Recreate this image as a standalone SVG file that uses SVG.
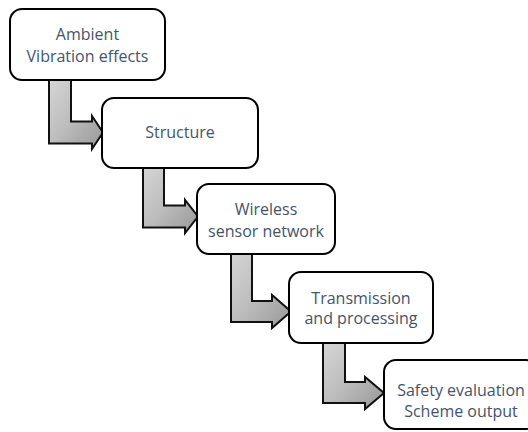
<svg xmlns="http://www.w3.org/2000/svg" width="528" height="432" viewBox="0 0 528 432">
<defs>
<linearGradient id="g" x1="0" y1="0" x2="1" y2="1">
<stop offset="0" stop-color="#d6d6d6"/>
<stop offset="0.5" stop-color="#bcbcbc"/>
<stop offset="1" stop-color="#979797"/>
</linearGradient>
<style>
.arr{fill:url(#g);stroke:#111;stroke-width:2;stroke-linejoin:miter}
.in{fill:none;stroke:#8a8a8a;stroke-width:2;stroke-linejoin:miter}
.box{fill:#fff;stroke:#000;stroke-width:2}
.t{font-family:"Open Sans","Liberation Sans",sans-serif;font-size:16px;fill:#44546A;text-anchor:middle}
</style>
</defs>
<rect width="528" height="432" fill="#fff"/>
<g id="connectors">
<path class="arr" d="M49,78 L71,78 L71,121.5 L92,121.5 L92,116 L103,132.5 L92,149 L92,143.5 L49,143.5 Z"/>
<path class="arr" d="M143,166 L164,166 L164,205.5 L185,205.5 L185,200 L198,216.5 L185,233 L185,227.5 L143,227.5 Z"/>
<path class="arr" d="M231,252 L252,252 L252,301 L272,301 L272,295 L291,311.5 L272,328 L272,322 L231,322 Z"/>
<path class="arr" d="M323,341 L345,341 L345,382 L365,382 L365,377 L384,393 L365,409 L365,403 L323,403 Z"/>
</g>
<g id="n1"><rect class="box" x="10" y="9" width="155" height="71" rx="12"/>
<text class="t" x="87.5" y="39.5">Ambient</text><text class="t" x="87.5" y="61.5">Vibration effects</text></g>
<g id="n2"><rect class="box" x="102" y="98" width="156" height="70" rx="12"/>
<text class="t" x="180" y="138">Structure</text></g>
<g id="n3"><rect class="box" x="197" y="184" width="138" height="70" rx="12"/>
<text class="t" x="266" y="215">Wireless</text><text class="t" x="266" y="236.5">sensor network</text></g>
<g id="n4"><rect class="box" x="289" y="272" width="144" height="71" rx="12"/>
<text class="t" x="361" y="303.5">Transmission</text><text class="t" x="361" y="323.5">and processing</text></g>
<g id="n5"><rect class="box" x="384" y="360" width="154" height="69" rx="12"/>
<text class="t" x="461" y="396">Safety evaluation</text><text class="t" x="461" y="417">Scheme output</text></g>
</svg>
